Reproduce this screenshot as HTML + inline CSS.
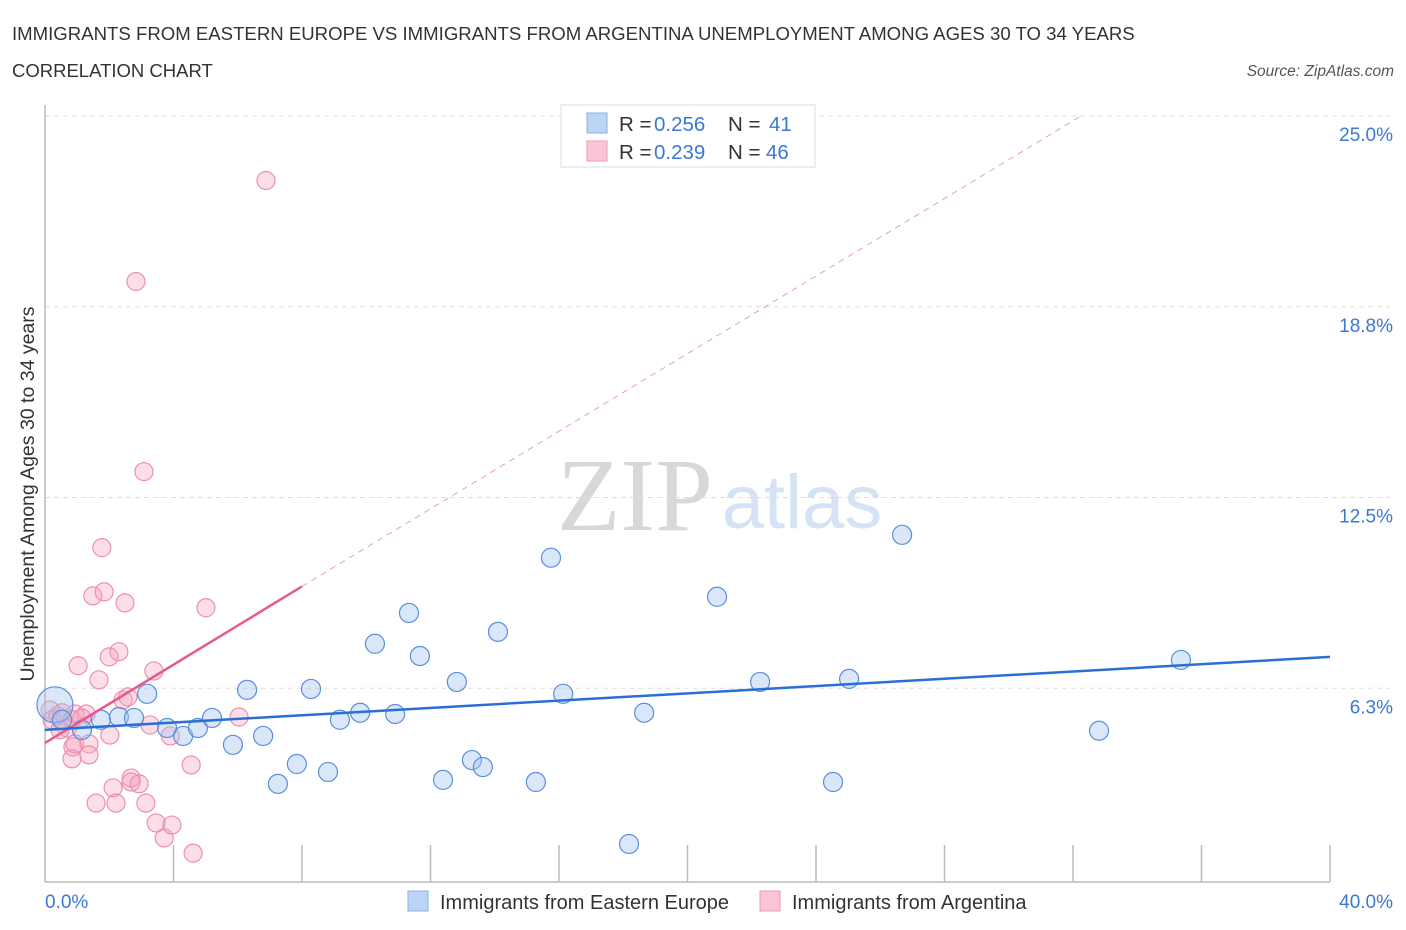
<!DOCTYPE html>
<html><head><meta charset="utf-8"><style>
body{margin:0;background:#fff;font-family:"Liberation Sans",sans-serif;}
svg{display:block}
</style></head><body>
<svg id="c" width="1406" height="930" xmlns="http://www.w3.org/2000/svg">
<text x="12" y="40" font-size="18.6" fill="#333">IMMIGRANTS FROM EASTERN EUROPE VS IMMIGRANTS FROM ARGENTINA UNEMPLOYMENT AMONG AGES 30 TO 34 YEARS</text>
<text x="12" y="77" font-size="18.5" fill="#333">CORRELATION CHART</text>
<text x="1394" y="76" font-size="15.5" fill="#555" font-style="italic" text-anchor="end">Source: ZipAtlas.com</text>
<text x="635" y="530" font-size="104" fill="#d8d8d8" font-family="Liberation Serif,serif" text-anchor="middle">ZIP</text>
<text x="802" y="528" font-size="76" fill="#d5e3f5" text-anchor="middle">atlas</text>
<g id="grid"></g>
<g id="axes"></g>
<g id="marks"></g>
<text transform="translate(34,494) rotate(-90)" font-size="19.5" fill="#333" text-anchor="middle">Unemployment Among Ages 30 to 34 years</text>
<text x="45" y="908" font-size="19" fill="#3a78d4">0.0%</text>
<text x="1393" y="908" font-size="19" fill="#3a78d4" text-anchor="end">40.0%</text>
<g>
<rect x="561" y="105" width="254" height="62" fill="#fff" stroke="#ddd"/>
<rect x="587" y="113" width="20" height="20" fill="#bcd4f5" stroke="#8ab0e8"/>
<rect x="587" y="141" width="20" height="20" fill="#fbc5d5" stroke="#ec9ab4"/>
<text x="619" y="131" font-size="20.5" fill="#333">R =<tspan x="654" fill="#3a78d4">0.256</tspan><tspan x="728">N = </tspan><tspan x="769" fill="#3a78d4">41</tspan></text>
<text x="619" y="159" font-size="20.5" fill="#333">R =<tspan x="654" fill="#3a78d4">0.239</tspan><tspan x="728">N = </tspan><tspan x="766" fill="#3a78d4">46</tspan></text>
</g>
<g>
<rect x="408" y="891" width="20" height="20" fill="#bcd4f5" stroke="#8ab0e8"/>
<text x="440" y="909" font-size="20" fill="#333">Immigrants from Eastern Europe</text>
<rect x="760" y="891" width="20" height="20" fill="#fbc5d5" stroke="#ec9ab4"/>
<text x="792" y="909" font-size="20" fill="#333">Immigrants from Argentina</text>
</g>
</svg>
<script>
const yTicks=[6.25,12.5,18.75,25];
const yTickLabels=["6.3%","12.5%","18.8%","25.0%"];
const blueX=[0.31,1.15,1.74,2.3,2.77,3.18,3.8,4.3,4.76,5.2,5.85,6.29,6.79,7.25,7.84,8.28,8.81,9.18,9.81,10.27,10.9,11.33,11.67,12.39,12.82,13.29,13.63,14.1,15.28,15.75,16.13,18.18,18.65,20.92,22.26,24.53,25.03,26.68,32.81,35.36,0.53];
const blueY=[5.74,4.92,5.25,5.34,5.31,6.1,4.98,4.72,4.98,5.31,4.43,6.23,4.72,3.15,3.8,6.26,3.54,5.25,5.48,7.74,5.44,8.75,7.34,3.28,6.49,3.93,3.7,8.13,3.21,10.56,6.1,1.18,5.48,9.28,6.49,3.21,6.59,11.31,4.89,7.21,5.25];
const blueR=[18,9.5,9.5,9.5,9.5,9.5,9.5,9.5,9.5,9.5,9.5,9.5,9.5,9.5,9.5,9.5,9.5,9.5,9.5,9.5,9.5,9.5,9.5,9.5,9.5,9.5,9.5,9.5,9.5,9.5,9.5,9.5,9.5,9.5,9.5,9.5,9.5,9.5,9.5,9.5,9.5];
const pinkX=[0.22,0.16,0.40,0.53,0.69,0.84,0.93,1.03,0.87,0.93,0.84,1.37,1.37,1.28,1.49,1.59,1.68,1.77,1.84,2.0,2.02,2.12,2.21,2.3,2.43,2.49,2.58,2.68,2.68,2.83,2.93,3.08,3.14,3.27,3.39,3.46,3.71,3.9,3.95,4.55,4.61,5.01,6.04,6.88,0.47,1.15];
const pinkY=[5.25,5.57,5.38,5.48,4.98,5.25,5.44,7.02,4.36,4.46,3.97,4.46,4.1,5.44,9.31,2.52,6.56,10.89,9.44,7.31,4.75,3.02,2.52,7.48,5.9,9.08,6.0,3.34,3.21,19.61,3.15,13.38,2.52,5.08,6.85,1.87,1.38,4.72,1.8,3.77,0.88,8.92,5.34,22.92,4.92,5.31];
const X0=45,X1=1330,Y0=880,PY=30.52;
const sx=v=>X0+(X1-X0)*v/40, sy=v=>Y0-v*PY;
const NS="http://www.w3.org/2000/svg";
function mk(t,a,p){const e=document.createElementNS(NS,t);for(const k in a)e.setAttribute(k,a[k]);p.appendChild(e);return e;}
const grid=document.getElementById('grid'),axes=document.getElementById('axes'),marks=document.getElementById('marks');
yTicks.forEach((t,i)=>{
  const l=mk('line',{x1:X0,x2:X1+60,y1:sy(t)-1,y2:sy(t)-1,stroke:'#ddd','stroke-dasharray':'5,4'},grid);
  
  
  const tx=mk('text',{x:1393,y:sy(t)+24,'font-size':19,fill:'#3a78d4','text-anchor':'end'},grid);
  tx.textContent=yTickLabels[i];
  
  
});
const ax=mk('line',{x1:X0,x2:X0,y1:105,y2:882,stroke:'#bbb','stroke-width':1.5},axes);


const bx=mk('line',{x1:X0,x2:X1,y1:882,y2:882,stroke:'#bbb','stroke-width':1.5},axes);


for(let i=1;i<=10;i++){
  const t=mk('line',{x1:sx(i*4),x2:sx(i*4),y1:845,y2:882,stroke:'#bbb','stroke-width':1.5},axes);
  
  
}
pinkX.forEach((x,i)=>{
  const c=mk('circle',{cx:sx(x),cy:sy(pinkY[i]),r:9,fill:'rgba(246,160,188,0.35)',stroke:'#ec8fae','stroke-width':1.2},marks);
  
  
});
blueX.forEach((x,i)=>{
  const c=mk('circle',{cx:sx(x),cy:sy(blueY[i]),r:blueR[i],fill:'rgba(160,195,240,0.4)',stroke:'#5a8fdc','stroke-width':1.2},marks);
  
  
});
const pd=mk('line',{x1:sx(8),y1:sy(9.62),x2:sx(32.2),y2:sy(25),stroke:'#e8a0b8','stroke-dasharray':'6,5','stroke-width':1},marks);


const pl=mk('line',{x1:sx(0),y1:sy(4.49),x2:sx(8),y2:sy(9.62),stroke:'#e45c8c','stroke-width':2.5},marks);


const bl=mk('line',{x1:sx(0),y1:sy(4.92),x2:sx(40),y2:sy(7.31),stroke:'#2a6fd6','stroke-width':2.5},marks);


</script>
</body></html>
